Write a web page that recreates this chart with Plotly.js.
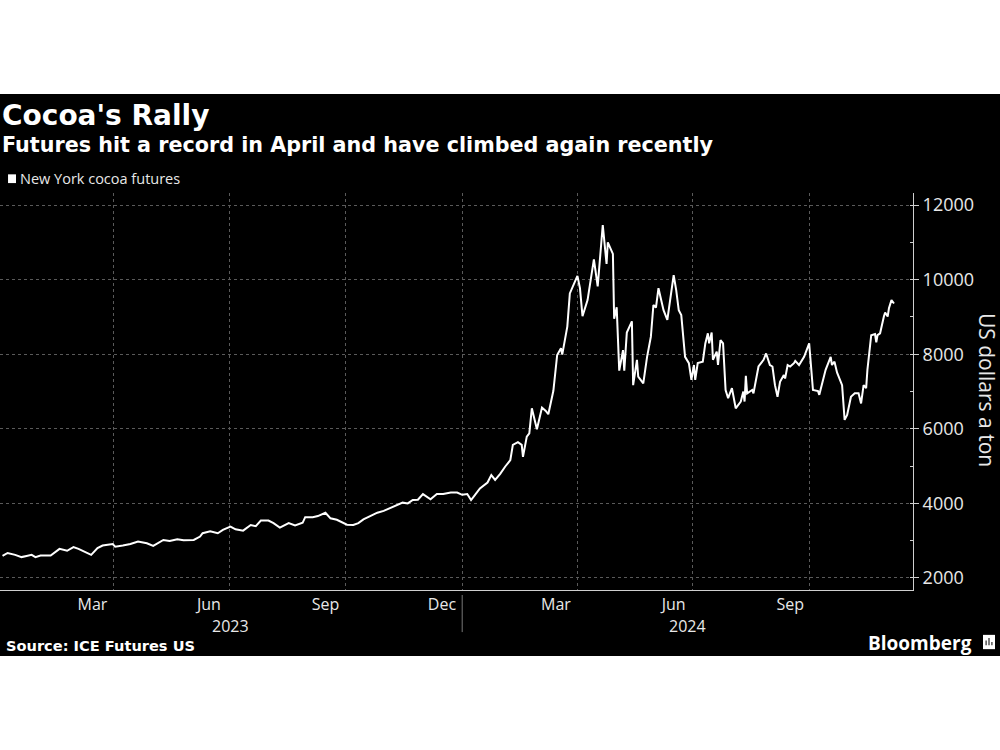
<!DOCTYPE html>
<html><head><meta charset="utf-8">
<script src="https://cdn.plot.ly/plotly-3.0.1.min.js"></script>
<style>
html,body{margin:0;padding:0;background:#fff;width:1000px;height:750px;overflow:hidden}
#chart{position:absolute;left:0;top:94px;width:1000px;height:562px}
</style>
</head><body><div id="chart"></div>
<script>
// New York cocoa futures, US dollars a ton
const dates = [
 '2023-01-03','2023-01-07','2023-01-13','2023-01-18','2023-01-22','2023-01-26','2023-01-29','2023-02-02','2023-02-10','2023-02-17',
 '2023-02-23','2023-02-28','2023-03-04','2023-03-09','2023-03-14','2023-03-19','2023-03-23','2023-03-31','2023-04-02','2023-04-08',
 '2023-04-14','2023-04-20','2023-04-27','2023-05-02','2023-05-10','2023-05-15','2023-05-21','2023-05-26','2023-06-03','2023-06-08',
 '2023-06-10','2023-06-16','2023-06-22','2023-06-26','2023-07-02','2023-07-06','2023-07-12','2023-07-18','2023-07-22','2023-07-26',
 '2023-08-01','2023-08-05','2023-08-10','2023-08-17','2023-08-22','2023-08-28','2023-08-30','2023-09-05','2023-09-09','2023-09-15',
 '2023-09-19','2023-09-24','2023-09-29','2023-10-02','2023-10-07','2023-10-11','2023-10-15','2023-10-20','2023-10-26','2023-10-31',
 '2023-11-04','2023-11-08','2023-11-15','2023-11-19','2023-11-23','2023-11-27','2023-12-01','2023-12-07','2023-12-12','2023-12-17',
 '2023-12-23','2023-12-28','2024-01-01','2024-01-05','2024-01-08','2024-01-11','2024-01-15','2024-01-21','2024-01-24','2024-01-27',
 '2024-01-31','2024-02-04','2024-02-08','2024-02-10','2024-02-14','2024-02-17','2024-02-18','2024-02-21','2024-02-23','2024-02-25',
 '2024-02-29','2024-03-04','2024-03-07','2024-03-09','2024-03-13','2024-03-16','2024-03-19','2024-03-20','2024-03-24','2024-03-26',
 '2024-03-29','2024-04-01','2024-04-03','2024-04-05','2024-04-09','2024-04-11','2024-04-14','2024-04-17','2024-04-19','2024-04-21',
 '2024-04-24','2024-04-25','2024-04-29','2024-04-30','2024-05-02','2024-05-04','2024-05-07','2024-05-08','2024-05-10','2024-05-12',
 '2024-05-14','2024-05-15','2024-05-18','2024-05-19','2024-05-23','2024-05-26','2024-05-29','2024-05-31','2024-06-02','2024-06-04',
 '2024-06-08','2024-06-11','2024-06-13','2024-06-16','2024-06-18','2024-06-20','2024-06-22','2024-06-25','2024-06-28','2024-06-30',
 '2024-07-02','2024-07-03','2024-07-05','2024-07-09','2024-07-11','2024-07-13','2024-07-14','2024-07-16','2024-07-17','2024-07-20',
 '2024-07-21','2024-07-23','2024-07-25','2024-07-27','2024-07-29','2024-08-01','2024-08-04','2024-08-08','2024-08-10','2024-08-11',
 '2024-08-12','2024-08-13','2024-08-17','2024-08-18','2024-08-22','2024-08-26','2024-08-28','2024-08-31','2024-09-02','2024-09-04',
 '2024-09-06','2024-09-08','2024-09-11','2024-09-12','2024-09-14','2024-09-16','2024-09-19','2024-09-20','2024-09-23','2024-09-27',
 '2024-10-01','2024-10-04','2024-10-08','2024-10-09','2024-10-14','2024-10-18','2024-10-19','2024-10-21','2024-10-23','2024-10-27',
 '2024-10-29','2024-10-31','2024-11-03','2024-11-06','2024-11-09','2024-11-11','2024-11-13','2024-11-15','2024-11-16','2024-11-19',
 '2024-11-22','2024-11-23','2024-11-24','2024-11-26','2024-11-29','2024-11-30','2024-12-02','2024-12-03','2024-12-05','2024-12-07'
];
const prices = [
 2590,2670,2620,2560,2590,2620,2560,2600,2600,2780,
 2730,2830,2780,2700,2620,2800,2870,2910,2840,2870,
 2910,2980,2930,2860,3020,2990,3040,3010,3020,3110,
 3200,3250,3200,3290,3380,3305,3270,3420,3390,3540,
 3540,3470,3350,3470,3410,3480,3630,3630,3660,3750,
 3600,3560,3470,3430,3420,3470,3570,3650,3750,3800,
 3860,3930,4020,4000,4090,4100,4250,4110,4250,4250,
 4290,4290,4230,4250,4090,4220,4400,4560,4760,4630,
 4790,4990,5160,5570,5640,5570,5250,5790,5880,6550,
 5990,6570,6480,6390,7020,7980,8160,7990,8740,9630,
 9850,10100,9770,9020,9450,9850,10540,9820,10560,11460,
 10420,11000,10690,8950,9260,7560,8110,7560,8580,8740,
 8880,7170,7850,7400,7220,7930,8470,9320,9250,9770,
 9180,8920,9360,10120,9720,9180,9050,7930,7760,7310,
 7710,7310,7760,7800,8290,8560,8290,8580,7850,8070,
 7710,8380,8290,7040,6820,7090,6550,6730,7000,6730,
 7420,6950,7040,6950,7670,7850,8020,7710,7670,7170,
 6860,7260,7440,7350,7710,7670,7760,7820,7710,7930,
 8290,7040,7010,6910,7580,7930,7710,7800,7510,7170,
 6240,6370,6860,6950,6950,6680,7170,7090,7580,8510,
 8540,8320,8510,8560,9010,9120,9010,9230,9450,9360
];
const xRange = ['2023-01-01','2024-12-22'];
const yRange = [1678, 12322];
const yTicks = [2000, 4000, 6000, 8000, 10000, 12000];
const yTickLabels = ['2000', '4000', '6000', '8000', '10000', '12000'];
const monthLabelDates = ['2023-03-15','2023-06-15','2023-09-15','2023-12-16','2024-03-15','2024-06-16','2024-09-16'];
const monthLabels = ['Mar','Jun','Sep','Dec','Mar','Jun','Sep'];
const quarterStarts = ['2023-04-01','2023-07-01','2023-10-01','2024-01-01','2024-04-01','2024-07-01','2024-10-01'];
const monthStarts = ['2023-02-01','2023-03-01','2023-04-01','2023-05-01','2023-06-01','2023-07-01','2023-08-01','2023-09-01',
 '2023-10-01','2023-11-01','2023-12-01','2024-01-01','2024-02-01','2024-03-01','2024-04-01','2024-05-01','2024-06-01',
 '2024-07-01','2024-08-01','2024-09-01','2024-10-01','2024-11-01','2024-12-01'];
const yearLabels = ['2023','2024'];
const yearLabelDates = ['2023-07-02','2024-06-27'];
const yearBoundary = '2024-01-01';

const FONT = 'Open Sans, Noto Sans, sans-serif';
const BOLD = 'DejaVu Sans, Verdana, sans-serif';
const txt = '#e8e8e8';

const traces = [{
  x: dates, y: prices, type: 'scatter', mode: 'lines',
  line: {color: '#ffffff', width: 2}, name: 'New York cocoa futures',
  hoverinfo: 'x+y', showlegend: false
}];

const annotations = [
  {text: "<b>Cocoa's Rally</b>", xref: 'paper', yref: 'paper', x: 0.0005, y: 1.196, xanchor: 'left', yanchor: 'middle',
   showarrow: false, font: {family: BOLD, size: 28, color: '#ffffff'}},
  {text: '<b>Futures hit a record in April and have climbed again recently</b>', xref: 'paper', yref: 'paper', x: 0.0005, y: 1.121,
   xanchor: 'left', yanchor: 'middle', showarrow: false, font: {family: BOLD, size: 20.7, color: '#ffffff'}},
  {text: 'New York cocoa futures', xref: 'paper', yref: 'paper', x: 0.0195, y: 1.036, xanchor: 'left', yanchor: 'middle',
   showarrow: false, font: {family: FONT, size: 14.5, color: txt}},
  {text: 'US dollars a ton', xref: 'paper', yref: 'paper', x: 1.081, y: 0.504, xanchor: 'center', yanchor: 'middle',
   textangle: 90, showarrow: false, font: {family: FONT, size: 21, color: txt}},
  {text: '<b>Source: ICE Futures US</b>', xref: 'paper', yref: 'paper', x: 0.004, y: -0.141, xanchor: 'left', yanchor: 'middle',
   showarrow: false, font: {family: BOLD, size: 14.6, color: '#ffffff'}},
  {text: '<b>Bloomberg</b>', xref: 'paper', yref: 'paper', x: 1.0665, y: -0.1335, xanchor: 'right', yanchor: 'middle',
   showarrow: false, font: {family: FONT, size: 19, color: '#ffffff'}}
];
yearLabels.forEach((t, i) => annotations.push({
  text: t, xref: 'x', yref: 'paper', x: yearLabelDates[i], y: -0.09, xanchor: 'center', yanchor: 'middle',
  showarrow: false, font: {family: FONT, size: 16, color: txt}
}));

const shapes = [
  {type: 'line', xref: 'x', yref: 'paper', x0: yearBoundary, x1: yearBoundary, y0: -0.0126, y1: -0.106,
   line: {color: '#777', width: 1}},
  {type: 'rect', xref: 'paper', yref: 'paper', x0: 0.0088, x1: 0.0175, y0: 1.025, y1: 1.047,
   fillcolor: '#ffffff', line: {width: 0}},
  // Bloomberg logo mark
  {type: 'rect', xref: 'paper', yref: 'paper', x0: 1.0767, x1: 1.0898, y0: -0.149, y1: -0.113,
   fillcolor: '#ffffff', line: {width: 0}},
  {type: 'rect', xref: 'paper', yref: 'paper', x0: 1.0795, x1: 1.0806, y0: -0.139, y1: -0.127, fillcolor: '#000', line: {width: 0}},
  {type: 'rect', xref: 'paper', yref: 'paper', x0: 1.0827, x1: 1.0838, y0: -0.139, y1: -0.121, fillcolor: '#000', line: {width: 0}},
  {type: 'rect', xref: 'paper', yref: 'paper', x0: 1.0859, x1: 1.0870, y0: -0.139, y1: -0.131, fillcolor: '#000', line: {width: 0}}
];

const layout = {
  width: 1000, height: 562,
  margin: {l: 0, r: 87, t: 99, b: 66, pad: 0},
  paper_bgcolor: '#000000', plot_bgcolor: '#000000',
  font: {family: FONT, color: txt},
  showlegend: false,
  xaxis: {
    type: 'date', range: xRange, tickmode: 'array', tickvals: monthLabelDates, ticktext: monthLabels,
    ticks: '', showgrid: false, zeroline: false, showline: true, linecolor: '#cfcfcf', linewidth: 1,
    tickfont: {family: FONT, size: 16, color: txt}, ticklabelstandoff: 0,
    minor: {tickmode: 'array', tickvals: quarterStarts, showgrid: true, gridcolor: '#5a5a5a', griddash: 'dot', gridwidth: 1, ticks: ''}
  },
  xaxis2: {
    type: 'date', range: xRange, overlaying: 'x', anchor: 'y', side: 'bottom',
    tickmode: 'array', tickvals: monthStarts, ticks: 'outside', ticklen: 5, tickcolor: '#cfcfcf', tickwidth: 1,
    showticklabels: false, showgrid: false, zeroline: false, showline: false
  },
  yaxis: {
    side: 'right', range: yRange, tickmode: 'array', tickvals: yTicks, ticktext: yTickLabels, ticks: 'outside', ticklen: 5,
    tickcolor: '#cfcfcf', showline: true, linecolor: '#cfcfcf', linewidth: 1, zeroline: false,
    showgrid: true, gridcolor: '#5a5a5a', griddash: 'dot', gridwidth: 1,
    tickfont: {family: FONT, size: 18, color: txt},
    minor: {dtick: 1000, tick0: 1000, ticks: 'inside', ticklen: 3, tickcolor: '#cfcfcf', showgrid: false}
  },
  annotations: annotations,
  shapes: shapes
};

Plotly.newPlot('chart', traces, layout, {displayModeBar: false, staticPlot: true});
</script>
</body></html>
